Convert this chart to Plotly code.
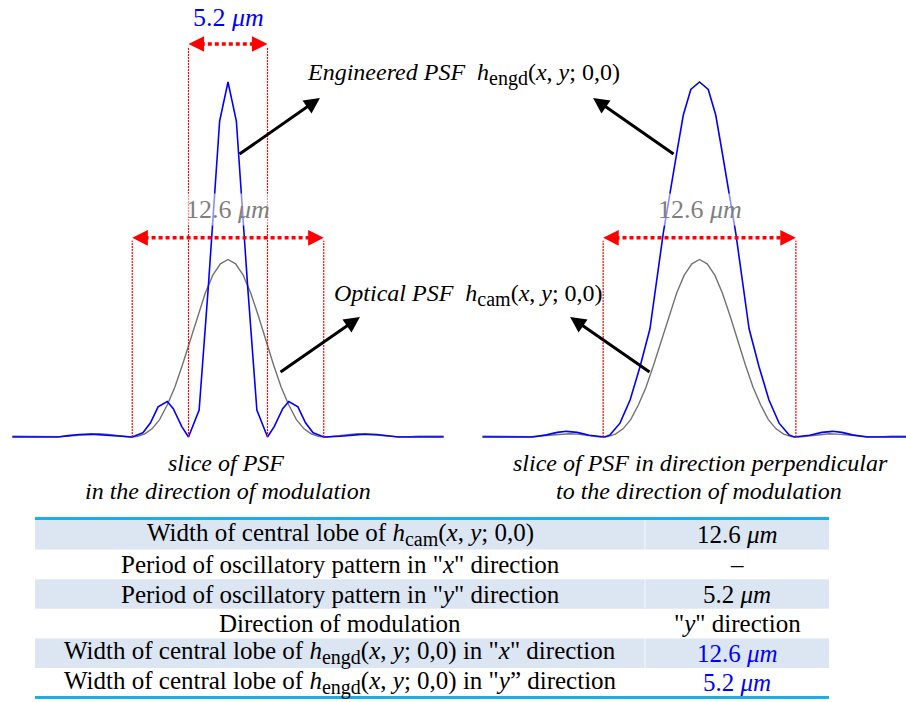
import plotly.graph_objects as go

# ---- PSF slices (x in micrometres, intensity normalised to engineered peak) ----
# optical PSF h_cam, same profile in both directions
cam_x = [-14.2, -14.0, -13.5, -13.0, -12.5, -12.0, -11.5, -11.0, -10.5, -10.0, -9.5, -9.0,
         -8.5, -8.0, -7.5, -7.0, -6.5, -6.0, -5.5, -5.0, -4.5, -4.0, -3.5, -3.0, -2.5, -2.0,
         -1.5, -1.0, -0.5, 0.0, 0.5, 1.0, 1.5, 2.0, 2.5, 3.0, 3.5, 4.0, 4.5, 5.0, 5.5, 6.0,
         6.5, 7.0, 7.5, 8.0, 8.5, 9.0, 9.5, 10.0, 10.5, 11.0, 11.5, 12.0, 12.5, 13.0, 13.5,
         14.0, 14.2]
cam_y = [0.002, 0.002, 0.002, 0.002, 0.002, 0.001, 0.000, 0.001, 0.003, 0.005, 0.007, 0.008,
         0.009, 0.008, 0.005, 0.002, 0.000, 0.001, 0.008, 0.023, 0.049, 0.090, 0.140, 0.203,
         0.270, 0.341, 0.405, 0.456, 0.488, 0.500, 0.488, 0.456, 0.405, 0.341, 0.270, 0.203,
         0.140, 0.090, 0.049, 0.023, 0.008, 0.001, 0.000, 0.002, 0.005, 0.008, 0.009, 0.008,
         0.007, 0.005, 0.003, 0.001, 0.000, 0.001, 0.002, 0.002, 0.002, 0.002, 0.002]

# engineered PSF h_engd, slice along the direction of modulation
engd_mod_x = [-14.2, -11.2, -10.5, -9.8, -9.0, -8.2, -7.4, -6.3, -5.6, -5.1, -4.6, -4.0, -3.6,
              -3.05, -2.6, -1.9, -1.3, -0.55, 0.0, 0.55, 1.3, 1.9, 2.6, 3.05, 3.6, 4.0, 4.6,
              5.1, 5.6, 6.3, 7.4, 8.2, 9.0, 9.8, 10.5, 11.2, 14.2]
engd_mod_y = [0.0, 0.0, 0.004, 0.007, 0.008, 0.006, 0.002, 0.0, 0.012, 0.040, 0.085, 0.100,
              0.080, 0.030, 0.0, 0.076, 0.420, 0.890, 1.0, 0.890, 0.420, 0.076, 0.0, 0.030,
              0.080, 0.100, 0.085, 0.040, 0.012, 0.0, 0.002, 0.006, 0.008, 0.007, 0.004, 0.0, 0.0]

# engineered PSF h_engd, slice perpendicular to the direction of modulation
engd_perp_x = [-14.2, -10.9, -10.0, -9.3, -8.7, -8.0, -7.2, -6.2, -5.85, -5.2, -4.54, -3.89,
               -3.24, -2.37, -1.49, -1.06, -0.57, 0.0, 0.57, 1.06, 1.49, 2.37, 3.24, 3.89,
               4.54, 5.2, 5.85, 6.2, 7.2, 8.0, 8.7, 9.3, 10.0, 10.9, 14.2]
engd_perp_y = [0.0, 0.0, 0.006, 0.013, 0.016, 0.013, 0.005, 0.0, 0.006, 0.039, 0.104, 0.198,
               0.305, 0.574, 0.800, 0.907, 0.979, 1.0, 0.979, 0.907, 0.800, 0.574, 0.305,
               0.198, 0.104, 0.039, 0.006, 0.0, 0.005, 0.013, 0.016, 0.013, 0.006, 0.0, 0.0]

# measured widths (micrometres)
cam_lobe_width = 12.6
engd_period = 5.2

# ---- table contents ----
SUB = '<sub><span style="font-size:20px">{}</span></sub>'
table_labels = [
    "Width of central lobe of <i>h</i>" + SUB.format("cam") + "(<i>x</i>, <i>y</i>; 0,0)",
    "Period of oscillatory pattern in \"<i>x</i>\" direction",
    "Period of oscillatory pattern in \"<i>y</i>\" direction",
    "Direction of modulation",
    "Width of central lobe of <i>h</i>" + SUB.format("engd")
    + "(<i>x</i>, <i>y</i>; 0,0) in \"<i>x</i>\" direction",
    "Width of central lobe of <i>h</i>" + SUB.format("engd")
    + "(<i>x</i>, <i>y</i>; 0,0) in \"<i>y</i>\u201d direction",
]
table_values = [
    "12.6 <i>\u03bcm</i>",
    "\u2013",
    "5.2 <i>\u03bcm</i>",
    "\"<i>y</i>\" direction",
    "12.6 <i>\u03bcm</i>",
    "5.2 <i>\u03bcm</i>",
]
value_colors = ["black", "black", "black", "black", "#0000ff", "#0000ff"]

# ---- styling ----
W, H = 906, 702
SERIF = "Liberation Serif"
BLUE = "#0000ff"
GRAY = "#737373"
RED = "#ff0000"
ROW_FILL = "#dce6f2"
RULE = "#1aaee8"


def px(xp):
    return xp / W


def py(yp):
    return 1 - yp / H


fig = go.Figure()

# curves
fig.add_trace(go.Scatter(x=cam_x, y=cam_y, mode="lines", line=dict(color=GRAY, width=1.4),
                         xaxis="x", yaxis="y"))
fig.add_trace(go.Scatter(x=engd_mod_x, y=engd_mod_y, mode="lines",
                         line=dict(color=BLUE, width=1.6), xaxis="x", yaxis="y"))
fig.add_trace(go.Scatter(x=cam_x, y=cam_y, mode="lines", line=dict(color=GRAY, width=1.4),
                         xaxis="x2", yaxis="y2"))
fig.add_trace(go.Scatter(x=engd_perp_x, y=engd_perp_y, mode="lines",
                         line=dict(color=BLUE, width=1.6), xaxis="x2", yaxis="y2"))

# dimension markers
LEVEL_NARROW = 1.107
LEVEL_WIDE = 0.561


def dimension(width, level, xa, ya):
    h = width / 2
    fig.add_trace(go.Scatter(x=[-h, -h, None, h, h], y=[0, level - 0.008, None, 0, level - 0.008],
                             mode="lines", line=dict(color=RED, width=1.2, dash="2px,1px"),
                             xaxis=xa, yaxis=ya))
    fig.add_trace(go.Scatter(x=[-h + 0.35, h - 0.35], y=[level, level], mode="lines",
                             line=dict(color=RED, width=3.5, dash="4px,3px"),
                             xaxis=xa, yaxis=ya))
    for sx in (-1, 1):
        fig.add_annotation(x=sx * h, y=level, xref=xa, yref=ya, text="", showarrow=True,
                           ax=-sx * 10, ay=0, arrowhead=2, arrowsize=1.2, arrowwidth=2.6,
                           arrowcolor=RED)


dimension(engd_period, LEVEL_NARROW, "x", "y")
dimension(cam_lobe_width, LEVEL_WIDE, "x", "y")
dimension(cam_lobe_width, LEVEL_WIDE, "x2", "y2")

fig.add_annotation(x=0, y=1.183, xref="x", yref="y", text=f"{engd_period} <i>\u03bcm</i>",
                   showarrow=False, font=dict(family=SERIF, size=26, color=BLUE))
for xa, ya in (("x", "y"), ("x2", "y2")):
    fig.add_annotation(x=0, y=0.64, xref=xa, yref=ya, text=f"{cam_lobe_width} <i>\u03bcm</i>",
                       showarrow=False, bgcolor="rgba(255,255,255,0.55)",
                       font=dict(family=SERIF, size=26, color="#7f7f7f"))

# pointer arrows from the curves to their labels
pointers = [
    ("x", "y", 0.66, 0.794, 6.05, 0.955),
    ("x", "y", 3.36, 0.180, 8.68, 0.338),
    ("x2", "y2", -1.60, 0.794, -6.96, 0.955),
    ("x2", "y2", -3.17, 0.180, -8.46, 0.338),
]
for xa, ya, tx, ty, hx, hy in pointers:
    fig.add_annotation(x=hx, y=hy, xref=xa, yref=ya, ax=tx, ay=ty, axref=xa, ayref=ya,
                       text="", showarrow=True, arrowhead=2, arrowsize=1.05, arrowwidth=3,
                       arrowcolor="black")

# curve labels
LABEL_SUB = '<sub><span style="font-size:20px">{}</span></sub>'
fig.add_annotation(x=px(305), y=py(74), xref="paper", yref="paper", xanchor="left",
                   yanchor="middle", showarrow=False,
                   text="<i>Engineered PSF</i>\u00a0\u00a0<i>h</i>" + LABEL_SUB.format("engd")
                   + "(<i>x</i>, <i>y</i>; 0,0)",
                   font=dict(family=SERIF, size=24, color="black"))
fig.add_annotation(x=px(332), y=py(295), xref="paper", yref="paper", xanchor="left",
                   yanchor="middle", showarrow=False,
                   text="<i>Optical PSF</i>\u00a0\u00a0<i>h</i>" + LABEL_SUB.format("cam")
                   + "(<i>x</i>, <i>y</i>; 0,0)",
                   font=dict(family=SERIF, size=24, color="black"))

# captions under each slice
captions = [
    (226, 463, "slice of PSF"),
    (228, 491, "in the direction of modulation"),
    (700, 463, "slice of PSF in direction perpendicular"),
    (699, 491, "to the direction of modulation"),
]
for cx, cy, txt in captions:
    fig.add_annotation(x=px(cx), y=py(cy), xref="paper", yref="paper", showarrow=False,
                       xanchor="center", yanchor="middle",
                       text=f"<i>{txt}</i>", font=dict(family=SERIF, size=24, color="black"))

# summary table: banded rows, column split, light-blue rules top and bottom
TABLE_L, TABLE_R, TABLE_T, ROW_H, COL_SPLIT = 35, 829, 520, 29.6, 645
for i, (label, value, vcol) in enumerate(zip(table_labels, table_values, value_colors)):
    top = TABLE_T + i * ROW_H
    if i % 2 == 0:
        fig.add_shape(type="rect", xref="paper", yref="paper", x0=px(TABLE_L), x1=px(TABLE_R),
                      y0=py(top + ROW_H), y1=py(top), fillcolor=ROW_FILL, line=dict(width=0),
                      layer="below")
        fig.add_shape(type="line", xref="paper", yref="paper", x0=px(COL_SPLIT),
                      x1=px(COL_SPLIT), y0=py(top + ROW_H), y1=py(top),
                      line=dict(color="#f4f8fc", width=1), layer="below")
    mid = top + ROW_H / 2
    fig.add_annotation(x=px((TABLE_L + COL_SPLIT) / 2), y=py(mid), xref="paper", yref="paper",
                       xanchor="center", yanchor="middle", showarrow=False, text=label,
                       font=dict(family=SERIF, size=25, color="black"))
    fig.add_annotation(x=px((COL_SPLIT + TABLE_R) / 2), y=py(mid), xref="paper", yref="paper",
                       xanchor="center", yanchor="middle", showarrow=False, text=value,
                       font=dict(family=SERIF, size=25, color=vcol))
for yline in (518.5, 697.5):
    fig.add_shape(type="line", xref="paper", yref="paper", x0=px(TABLE_L), x1=px(TABLE_R),
                  y0=py(yline), y1=py(yline), line=dict(color=RULE, width=3))

axis_off = dict(visible=False, showgrid=False, zeroline=False, fixedrange=True)
fig.update_layout(
    width=W, height=H, margin=dict(l=0, r=0, t=0, b=0),
    paper_bgcolor="white", plot_bgcolor="rgba(0,0,0,0)", showlegend=False, hovermode=False,
    font=dict(family=SERIF),
    xaxis=dict(domain=[px(12.2), px(443.8)], range=[-14.2, 14.2], anchor="y", **axis_off),
    yaxis=dict(domain=[py(445), 1.0], range=[-0.0225, 1.231], anchor="x", **axis_off),
    xaxis2=dict(domain=[px(482.3), 1.0], range=[-14.2, 13.497], anchor="y2", **axis_off),
    yaxis2=dict(domain=[py(445), 1.0], range=[-0.0225, 1.231], anchor="x2", **axis_off),
)

fig.write_html("out.html")
